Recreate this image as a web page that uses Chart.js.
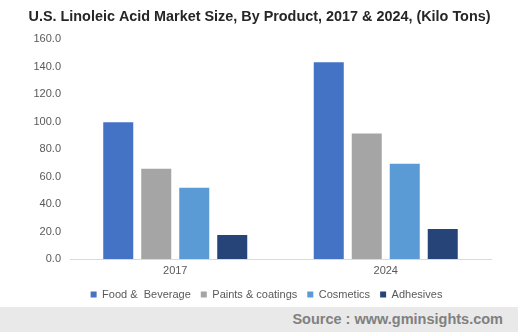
<!DOCTYPE html>
<html>
<head>
<meta charset="utf-8">
<script src="https://cdn.jsdelivr.net/npm/chart.js@4"></script>
<style>
  html, body { margin: 0; padding: 0; background: #fff; }
  #wrap { width: 518px; height: 332px; position: relative; }
  #chart-box { width: 518px; height: 307px; position: relative; }
  #footer {
    width: 518px; height: 25px; background: #e9e9e9;
    font: bold 14.5px "Liberation Sans", Arial, sans-serif; color: #808080;
    text-align: right; line-height: 25px; box-sizing: border-box; padding-right: 15px;
  }
</style>
</head>
<body>
<div id="wrap">
  <div id="chart-box"><canvas id="market-chart"></canvas></div>
  <div id="footer">Source : www.gminsights.com</div>
</div>
<script>
var years = ["2017", "2024"];
var foodBeverage = [99.5, 143.2];
var paintsCoatings = [65.7, 91.3];
var cosmetics = [51.9, 69.4];
var adhesives = [17.5, 21.9];
var yTicks = [0, 20, 40, 60, 80, 100, 120, 140, 160];

(function () {
  var canvas = document.getElementById("market-chart");
  var labelColor = "#595959";
  var fontFamily = "'Liberation Sans', Arial, sans-serif";

  // title and legend sit a bit right of the plot centre in the original
  var nudgeBlocksPlugin = {
    id: "nudgeBlocks",
    afterLayout: function (chart) {
      function shift(box, dx) {
        if (!box) return;
        box.left += dx;
        box.right += dx;
      }
      shift(chart.titleBlock, 14);
      shift(chart.legend, 21);
    },
  };

  function series(label, data, color) {
    return {
      label: label,
      data: data,
      backgroundColor: color,
      borderWidth: 0,
      categoryPercentage: 0.722,
      barPercentage: 0.79,
    };
  }

  new Chart(canvas, {
    type: "bar",
    data: {
      labels: years,
      datasets: [
        series("Food &  Beverage", foodBeverage, "#4472C4"),
        series("Paints & coatings", paintsCoatings, "#A5A5A5"),
        series("Cosmetics", cosmetics, "#5B9BD5"),
        series("Adhesives", adhesives, "#264478"),
      ],
    },
    options: {
      responsive: true,
      maintainAspectRatio: false,
      animation: false,
      layout: { padding: { left: 0, right: 27, top: 0, bottom: -3 } },
      plugins: {
        title: {
          display: true,
          text: "U.S. Linoleic Acid Market Size, By Product, 2017 & 2024, (Kilo Tons)",
          color: "#262626",
          font: { family: fontFamily, size: 14.4, weight: "bold" },
          padding: { top: 8, bottom: 14 },
        },
        legend: {
          position: "bottom",
          labels: {
            color: labelColor,
            font: { family: fontFamily, size: 11 },
            boxWidth: 6,
            boxHeight: 6,
            padding: 10,
          },
        },
        tooltip: { enabled: false },
      },
      scales: {
        x: {
          afterFit: function (scale) { scale.height = 20; },
          grid: { display: false, drawTicks: false },
          border: { color: "#d9d9d9", width: 1 },
          ticks: { color: labelColor, font: { family: fontFamily, size: 11 }, padding: 5 },
        },
        y: {
          min: 0,
          max: 160,
          afterBuildTicks: function (scale) {
            scale.ticks = yTicks.map(function (v) { return { value: v }; });
          },
          afterFit: function (scale) { scale.width = 70; },
          grid: { display: false, drawTicks: false },
          border: { display: false },
          ticks: {
            color: labelColor,
            font: { family: fontFamily, size: 11 },
            padding: 9,
            callback: function (v) { return Number(v).toFixed(1); },
          },
        },
      },
    },
    plugins: [nudgeBlocksPlugin],
  });
})();
</script>
</body>
</html>
